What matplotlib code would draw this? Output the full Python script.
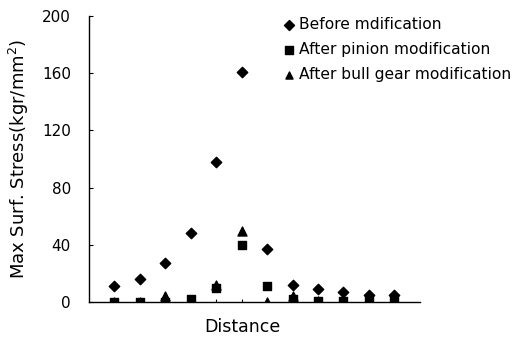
import matplotlib
matplotlib.use('Agg')
import matplotlib.pyplot as plt

# Data (12 positions along the distance axis)
positions = [1, 2, 3, 4, 5, 6, 7, 8, 9, 10, 11, 12]
before = [11, 16, 27, 48, 98, 161, 37, 12, 9, 7, 5, 5]
after_pinion = [0, 0, 0, 2, 10, 40, 11, 2, 1, 1, 1, 1]
after_bull = [0, 0, 4, 1, 12, 50, 0, 4, 1, 2, 2, 2]

labels = ['Before mdification', 'After pinion modification', 'After bull gear modification']

plt.rcParams['font.family'] = ['DejaVu Sans']

fig = plt.figure(figsize=(5.16, 3.38), dpi=100)
ax = fig.add_axes([0.1725, 0.1065, 0.641, 0.846])

ax.scatter(positions, before, marker='D', s=28, c='black', label=labels[0], zorder=3)
ax.scatter(positions, after_pinion, marker='s', s=38, c='black', label=labels[1], zorder=3)
ax.scatter(positions, after_bull, marker='^', s=42, c='black', label=labels[2], zorder=3)

ax.set_xlim(0, 13)
ax.set_ylim(0, 200)
ax.set_yticks([0, 40, 80, 120, 160, 200])
ax.set_xticks(positions)
ax.set_xticklabels([])
ax.tick_params(axis='both', direction='in', length=3, width=0.8, labelsize=11)
ax.tick_params(axis='x', length=2)
ax.tick_params(axis='y', pad=13)

for side in ['top', 'right']:
    ax.spines[side].set_visible(False)
for side in ['left', 'bottom']:
    ax.spines[side].set_linewidth(1.0)

ax.set_xlabel('Distance', fontsize=12.5)
ax.xaxis.set_label_coords(0.465, -0.055)
ax.set_ylabel('Max Surf. Stress(kgr/mm$^2$)', fontsize=13)
ax.yaxis.set_label_coords(-0.175, 0.5)

leg = ax.legend(loc='upper left', bbox_to_anchor=(0.582, 0.995), frameon=False,
                fontsize=11.2, handletextpad=0.1, handlelength=1.0,
                labelspacing=0.64, borderaxespad=0, borderpad=0)
for h in leg.legend_handles:
    h.set_sizes([26])

fig.savefig('out.png', dpi=100)
